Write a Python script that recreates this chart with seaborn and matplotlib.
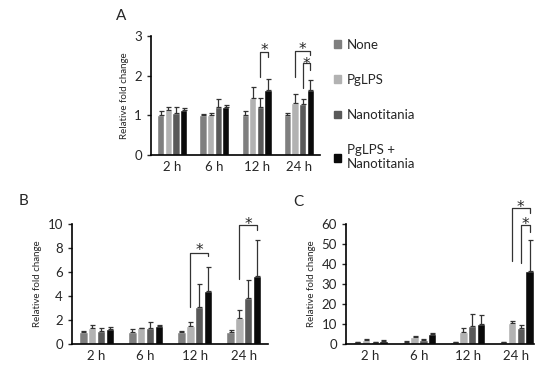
import pandas as pd
import matplotlib.pyplot as plt
import seaborn as sns

times = ["2 h", "6 h", "12 h", "24 h"]
groups = ["None", "PgLPS", "Nanotitania", "PgLPS +\nNanotitania"]
colors = ["#7f7f7f", "#b2b2b2", "#595959", "#0a0a0a"]

# mean values per group (rows) at each time point (columns)
a_mean = [[1.00, 1.00, 1.00, 1.00],
          [1.13, 1.00, 1.45, 1.32],
          [1.05, 1.20, 1.20, 1.28],
          [1.13, 1.22, 1.63, 1.63]]
a_err = [[0.10, 0.03, 0.10, 0.05],
         [0.09, 0.06, 0.27, 0.23],
         [0.15, 0.20, 0.23, 0.12],
         [0.05, 0.03, 0.29, 0.25]]

b_mean = [[1.00, 1.00, 1.00, 1.00],
          [1.35, 1.30, 1.50, 2.20],
          [1.05, 1.30, 3.10, 3.80],
          [1.25, 1.50, 4.40, 5.70]]
b_err = [[0.10, 0.25, 0.10, 0.20],
         [0.25, 0.05, 0.35, 0.60],
         [0.30, 0.55, 1.90, 1.50],
         [0.20, 0.05, 2.00, 3.00]]

c_mean = [[1.0, 1.0, 1.0, 1.0],
          [2.0, 3.7, 6.0, 10.3],
          [1.0, 1.8, 8.8, 8.0],
          [1.5, 5.0, 10.2, 36.5]]
c_err = [[0.2, 0.5, 0.2, 0.2],
         [0.5, 0.3, 2.0, 1.3],
         [0.2, 0.5, 6.2, 1.5],
         [0.3, 0.5, 4.4, 15.5]]

# significance brackets: (time index, left bar, right bar, top, left foot, right foot, star y)
a_sig = [(2, 2, 3, 2.60, 1.97, 2.48, 2.77),
         (3, 1, 3, 2.63, 1.97, 2.52, 2.79),
         (3, 2, 3, 2.31, 1.68, 2.14, 2.41)]
b_sig = [(2, 1, 3, 7.6, 3.1, 7.3, 8.2),
         (3, 1, 3, 9.9, 5.4, 9.5, 10.4)]
c_sig = [(3, 1, 3, 67.8, 41.5, 65.3, 70.8),
         (3, 2, 3, 59.5, 40.7, 56.0, 62.0)]

sns.set_style("ticks")
plt.rcParams['font.family'] = ['Lato', 'DejaVu Sans']

fig = plt.figure(figsize=(5.5, 3.74), dpi=100)
ax_a = fig.add_axes([0.2745, 0.5856, 0.3073, 0.318])
ax_b = fig.add_axes([0.1309, 0.0802, 0.3570, 0.321])
ax_c = fig.add_axes([0.6291, 0.0802, 0.3425, 0.321])


def panel(ax, mean, err, sig, ymax, step, xright):
    df = pd.DataFrame([(t, g, mean[gi][ti])
                       for gi, g in enumerate(groups)
                       for ti, t in enumerate(times)],
                      columns=["time", "group", "value"])
    sns.barplot(data=df, x="time", y="value", hue="group", order=times,
                hue_order=groups, palette=colors, width=0.72, gap=0.04,
                errorbar=None, ax=ax, legend=False, saturation=1)
    centers = []
    bars = list(ax.containers)
    for gi, cont in enumerate(bars):
        xs = [p.get_x() + p.get_width() / 2 for p in cont.patches]
        ys = [p.get_height() for p in cont.patches]
        centers.append(xs)
        ax.errorbar(xs, ys, yerr=[[0] * len(ys), err[gi]], fmt="none",
                    ecolor="#333333", elinewidth=0.9, capsize=1.8,
                    capthick=0.9)
    for ti, l, r, top, fl, fr, sy in sig:
        xl = centers[l][ti]
        xr = centers[r][ti]
        ax.plot([xl, xl, xr, xr], [fl, top, top, fr], color="#333333",
                lw=0.9, clip_on=False)
        ax.annotate("*", ((xl + xr) / 2, sy), xytext=(0, -3.5),
                    textcoords="offset points", ha="center", va="center",
                    fontsize=11, family="DejaVu Sans", annotation_clip=False)
    ax.set_ylim(0, ymax)
    ax.set_yticks(range(0, ymax + 1, step))
    ax.set_xlim(-0.5, xright)
    ax.set_xlabel("")
    ax.set_ylabel("Relative fold change", fontsize=7)
    ax.tick_params(axis="y", labelsize=9.5, length=3, width=1)
    ax.tick_params(axis="x", labelsize=9.5, length=0, pad=4)
    for s in ["top", "right"]:
        ax.spines[s].set_visible(False)
    for s in ["left", "bottom"]:
        ax.spines[s].set_linewidth(1.2)
        ax.spines[s].set_color("black")


panel(ax_a, a_mean, a_err, a_sig, 3, 1, 3.5)
panel(ax_b, b_mean, b_err, b_sig, 10, 2, 3.5)
panel(ax_c, c_mean, c_err, c_sig, 60, 10, 3.37)

fig.text(121 / 550, 1 - 16 / 374, "A", fontsize=11, ha="center", va="center")
fig.text(23 / 550, 1 - 201 / 374, "B", fontsize=11, ha="center", va="center")
fig.text(298 / 550, 1 - 202 / 374, "C", fontsize=11, ha="center", va="center")

handles = [plt.Rectangle((0, 0), 1, 1, color=c) for c in colors]
fig.legend(handles, groups, loc="upper left",
           bbox_to_anchor=(334 / 550, 1 - 39 / 374), frameon=False,
           fontsize=9.5, handlelength=0.55, handleheight=0.55,
           handletextpad=0.4, labelspacing=1.75, borderpad=0,
           borderaxespad=0)

fig.savefig("out.png", dpi=100)
